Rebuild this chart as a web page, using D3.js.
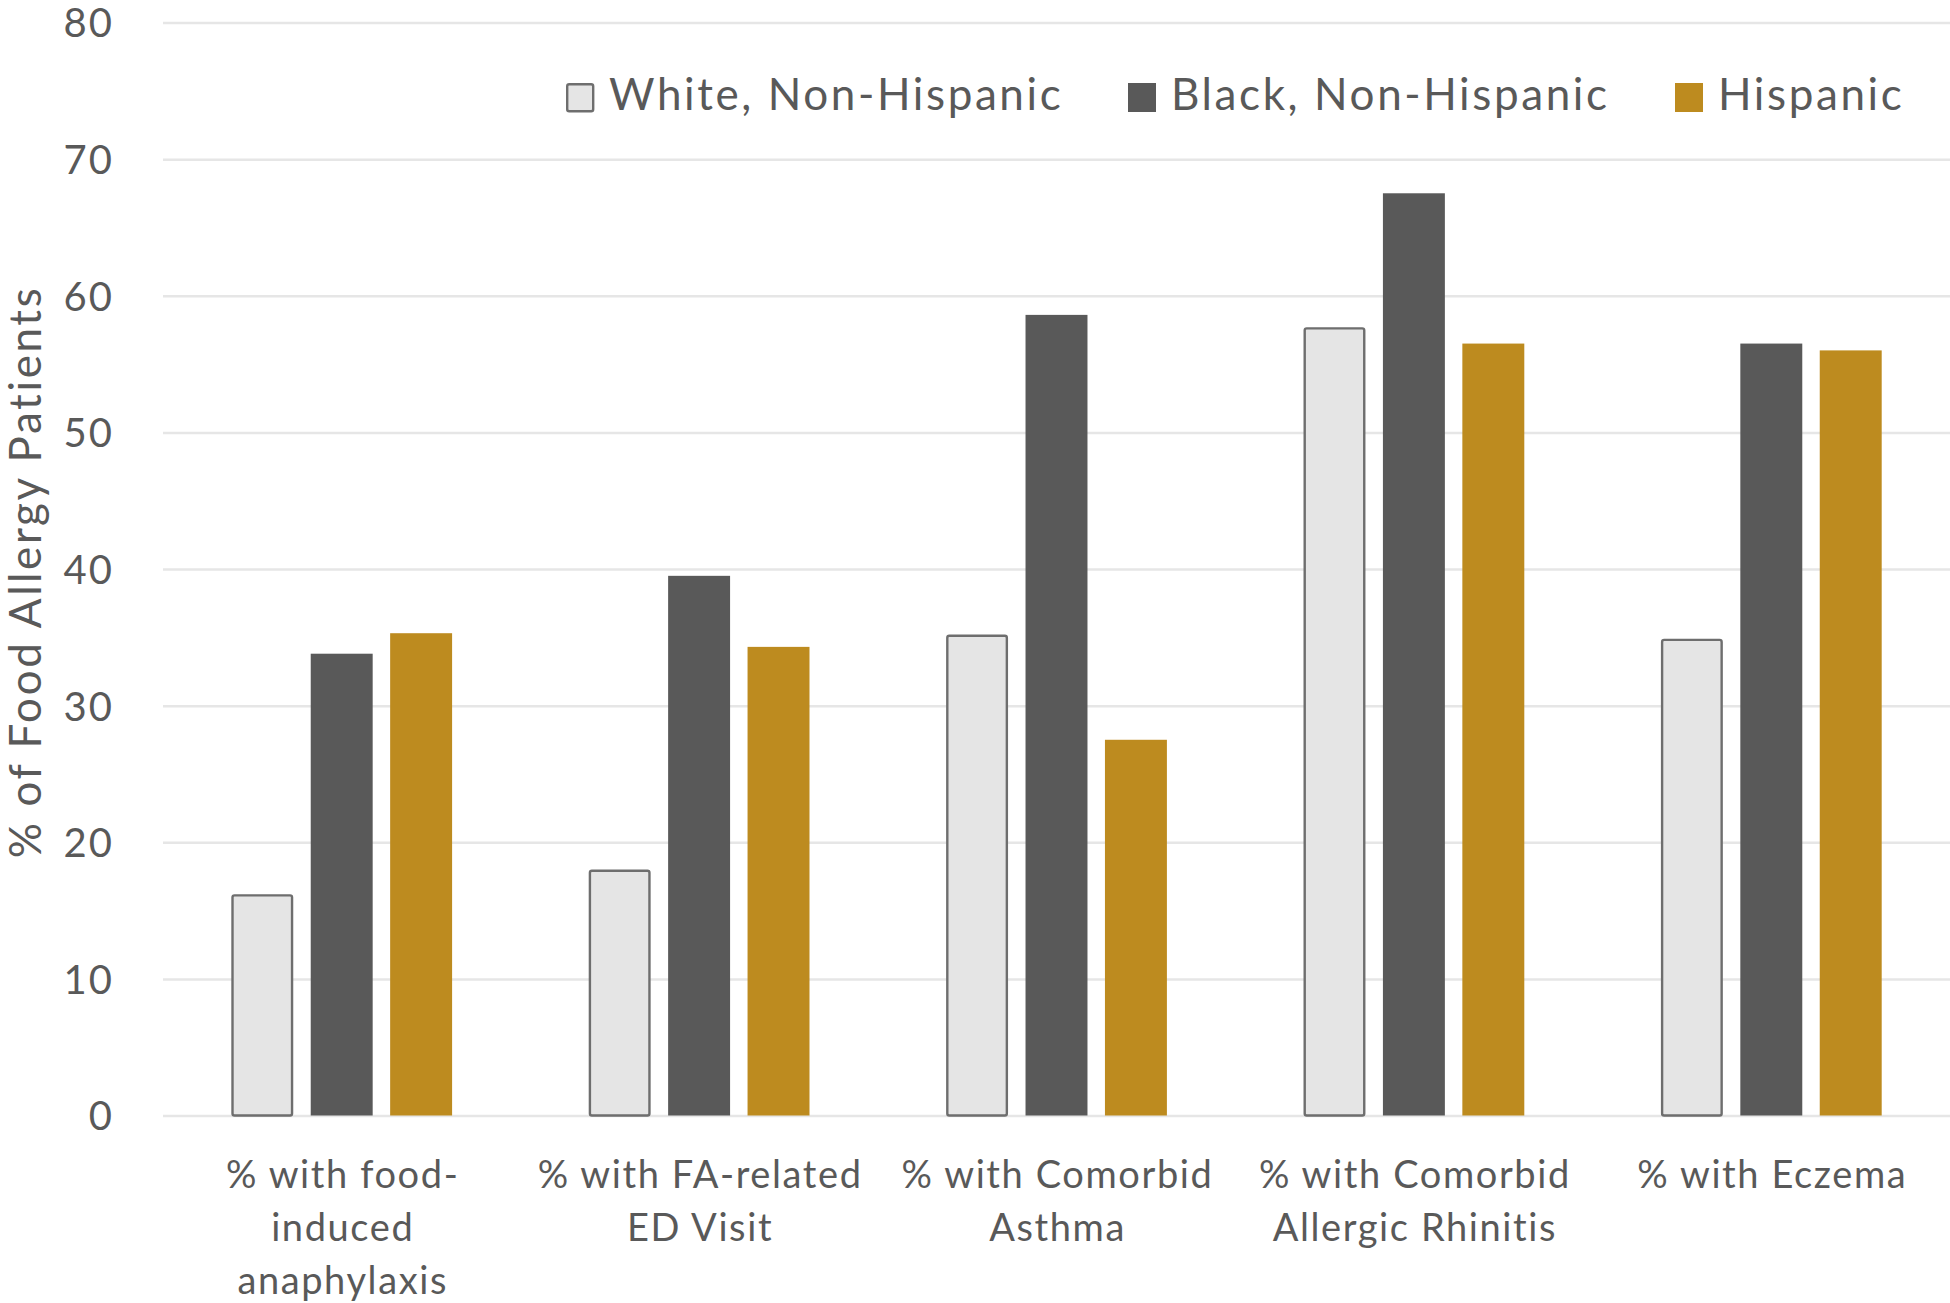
<!DOCTYPE html>
<html><head><meta charset="utf-8">
<script src="https://cdn.jsdelivr.net/npm/d3@7"></script>
<style>
html,body{margin:0;padding:0;background:#fff;}
text{font-family:Lato,"Open Sans",sans-serif;fill:#595959;}
</style></head>
<body>
<svg id="chart" width="1950" height="1303"></svg>
<script>
const categories = [
  ["% with food-", "induced", "anaphylaxis"],
  ["% with FA-related", "ED Visit"],
  ["% with Comorbid", "Asthma"],
  ["% with Comorbid", "Allergic Rhinitis"],
  ["% with Eczema"]
];
const seriesNames = ["White, Non-Hispanic", "Black, Non-Hispanic", "Hispanic"];
const whiteVals = [16.2, 18.0, 35.2, 57.7, 34.9];
const blackVals = [33.8, 39.5, 58.6, 67.5, 56.5];
const hispVals  = [35.3, 34.3, 27.5, 56.5, 56.0];
const yTicks = [0, 10, 20, 30, 40, 50, 60, 70, 80];
const yTitle = "% of Food Allergy Patients";

const seriesVals = [whiteVals, blackVals, hispVals];
const fills = ["#e5e5e5", "#595959", "#bd8b1f"];
const strokes = ["#6e6e6e", "none", "none"];

const svg = d3.select("#chart");
const pLeft = 163, pRight = 1950, pTop = 22.5, pBottom = 1115.5;

const y = d3.scaleLinear().domain([0, 80]).range([pBottom, pTop]);
const x0 = d3.scaleBand().domain(d3.range(categories.length)).range([pLeft, pRight]).padding(0);
const x1 = d3.scaleBand().domain(d3.range(3)).range([0, x0.bandwidth()]).paddingInner(0.22).paddingOuter(0.86);

// gridlines
const yAxis = d3.axisLeft(y).tickValues(yTicks).tickSize(-(pRight - pLeft)).tickPadding(0).tickFormat(d3.format("d"));
const gAxis = svg.append("g").attr("transform", `translate(${pLeft},0)`).call(yAxis);
gAxis.select(".domain").remove();
gAxis.selectAll(".tick line").attr("stroke", "#e6e6e6").attr("stroke-width", 2.5);
gAxis.selectAll(".tick text").attr("x", -49).attr("font-size", 40).attr("fill", "#595959").attr("dy", "0.36em")
  .attr("letter-spacing", 2).style("font-family", "Lato, sans-serif");

// bars
const groups = svg.append("g").selectAll("g").data(categories).join("g")
  .attr("transform", (d, i) => `translate(${x0(i)},0)`);
groups.each(function(d, i) {
  const g = d3.select(this);
  seriesVals.forEach((vals, s) => {
    const v = vals[i];
    const r = g.append("rect")
      .attr("x", x1(s)).attr("width", x1.bandwidth())
      .attr("y", y(v)).attr("height", y(0) - y(v))
      .attr("fill", fills[s]);
    if (s === 0) {
      r.attr("x", x1(s) + 1.2).attr("width", x1.bandwidth() - 2.4)
       .attr("y", y(v) + 1.2).attr("height", y(0) - y(v) - 1.2)
       .attr("stroke", strokes[s]).attr("stroke-width", 2.4).attr("rx", 2);
    }
  });
});

// x labels
const xl = svg.append("g");
categories.forEach((lines, i) => {
  const cx = x0(i) + x0.bandwidth() / 2 + 1;
  const t = xl.append("text").attr("text-anchor", "middle").attr("font-size", 38).attr("letter-spacing", 1.6);
  lines.forEach((ln, k) => {
    t.append("tspan").attr("x", cx).attr("y", 1188 + k * 53).text(ln);
  });
});

// y title
svg.append("text")
  .attr("transform", `translate(41,572) rotate(-90)`)
  .attr("text-anchor", "middle").attr("font-size", 44).attr("letter-spacing", 2.6)
  .text(yTitle);

// legend
const legX = [566, 1128, 1675];
const leg = svg.append("g");
seriesNames.forEach((name, s) => {
  const sw = leg.append("rect").attr("x", legX[s]).attr("y", 83).attr("width", 28).attr("height", 29)
    .attr("fill", fills[s]);
  if (s === 0) sw.attr("stroke", "#6e6e6e").attr("stroke-width", 2.4).attr("x", legX[s] + 1.2).attr("y", 84.2).attr("width", 26).attr("height", 27).attr("rx", 2);
  leg.append("text").attr("x", legX[s] + 43).attr("y", 110).attr("font-size", 44).attr("letter-spacing", 2.6).text(name);
});
</script>
</body></html>
